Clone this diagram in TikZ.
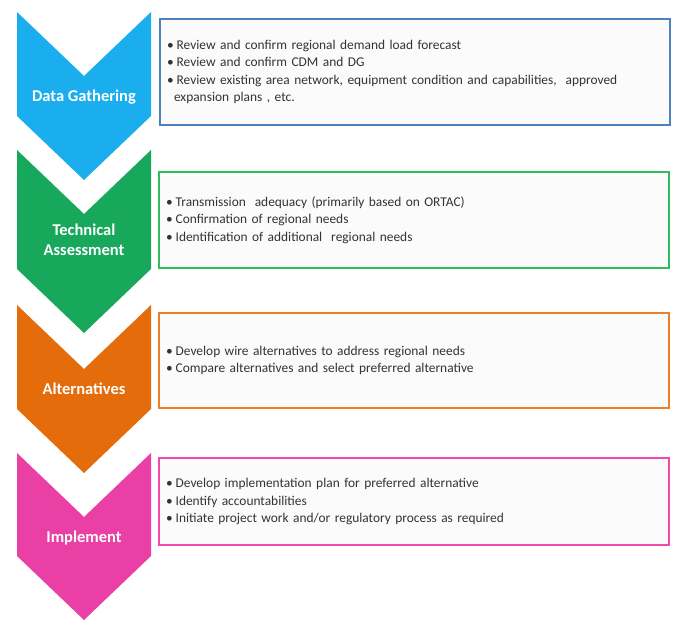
\documentclass[tikz,border=0pt]{standalone}
\usepackage{fontspec}
\setmainfont{Carlito}
\usepackage{xcolor}
\definecolor{gatherfill}{HTML}{1AAEEE}
\definecolor{assessfill}{HTML}{17A85B}
\definecolor{altfill}{HTML}{E46C0A}
\definecolor{implfill}{HTML}{EA3FA4}
\definecolor{gatherline}{HTML}{4F81BD}
\definecolor{assessline}{HTML}{2DBE5A}
\definecolor{altline}{HTML}{F07E26}
\definecolor{implline}{HTML}{F04AAE}
\definecolor{listink}{HTML}{333333}
\definecolor{listpaper}{HTML}{FBFBFB}

% chevron: #1 top, #2 tip, #3 colour
\newcommand{\stagechevron}[3]{%
  \fill[#3] (17,#1) -- (84,#1+64) -- (151,#1) -- (151,#2-64)
    -- (84,#2) -- (17,#2-64) -- cycle;}

\begin{document}
\begin{tikzpicture}[
  x=1pt,
  y=-1pt,
  stagelabel/.style={white, font=\fontsize{16.5}{20}\selectfont\bfseries, align=center},
  listbox/.style={fill=listpaper, line width=1.4pt, minimum width=510pt,
    text width=496pt, inner xsep=7pt, align=left, text=listink,
    font=\fontsize{13.4}{17.5}\selectfont}
]
  \useasboundingbox (0,0) rectangle (675,621);

  %% ---- chevrons -------------------------------------------------------
  \stagechevron{12}{180}{gatherfill}
  \stagechevron{150}{333}{assessfill}
  \stagechevron{305}{473}{altfill}
  \stagechevron{453}{620}{implfill}

  \node[stagelabel] (gatherlabel) at (84,97) {Data Gathering};
  \node[stagelabel] (assesslabel) at (84,240) {Technical\\Assessment};
  \node[stagelabel] (altlabel) at (84,389) {Alternatives};
  \node[stagelabel] (impllabel) at (84,538) {Implement};

  %% ---- boxes ----------------------------------------------------------
  \node[listbox, draw=gatherline, minimum height=106pt] (gatherbox) at (415,72)
    {\begin{tabular}{@{}l@{\hspace{3pt}}l@{}}
      \textbullet & Review and confirm regional demand load forecast\\
      \textbullet & Review and confirm CDM and DG\\
      \textbullet & Review existing area network, equipment condition and capabilities,\ \ approved\\
      \multicolumn{2}{@{\hspace{7pt}}l@{}}{expansion plans , etc.}
    \end{tabular}};

  \node[listbox, draw=assessline, minimum height=96pt] (assessbox) at (414,220)
    {\begin{tabular}{@{}l@{\hspace{3pt}}l@{}}
      \textbullet & Transmission\ \ adequacy (primarily based on ORTAC)\\
      \textbullet & Confirmation of regional needs\\
      \textbullet & Identification of additional\ \ regional needs
    \end{tabular}};

  \node[listbox, draw=altline, minimum height=95pt] (altbox) at (414,360.5)
    {\begin{tabular}{@{}l@{\hspace{3pt}}l@{}}
      \textbullet & Develop wire alternatives to address regional needs\\
      \textbullet & Compare alternatives and select preferred alternative
    \end{tabular}};

  \node[listbox, draw=implline, minimum height=87pt] (implbox) at (414,501.5)
    {\begin{tabular}{@{}l@{\hspace{3pt}}l@{}}
      \textbullet & Develop implementation\ plan for preferred alternative\\
      \textbullet & Identify accountabilities\\
      \textbullet & Initiate project work and/or regulatory process as required
    \end{tabular}};

\end{tikzpicture}
\end{document}
